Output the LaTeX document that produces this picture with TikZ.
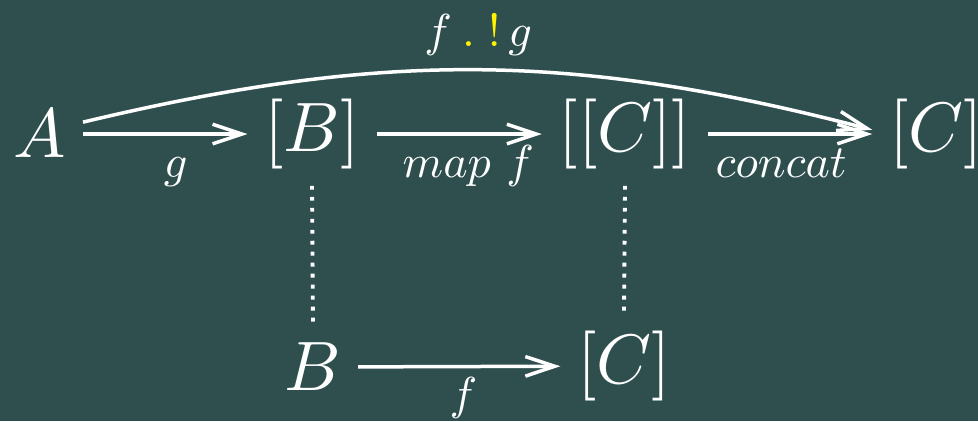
\documentclass[tikz,border=0pt]{standalone}
\usepackage{amsmath}
\usepackage{graphicx}
\usepackage{xcolor}
\usetikzlibrary{arrows.meta,positioning}
\definecolor{bgteal}{HTML}{2F4F4F}
\newcommand{\lbl}[1]{\scalebox{0.66}{$#1$}}

\begin{document}
\begin{tikzpicture}[x=0.1429pt,y=-0.1429pt,
  obj/.style={text=white,inner sep=2.2pt},
  mor/.style={-{Straight Barb[length=4.2pt,width=2.8pt]},white,line width=0.5pt},
  eq/.style={white,line width=0.55pt,dash pattern=on 0.55pt off 1.02pt},
  lab/.style={text=white,inner sep=0pt,anchor=base},
  lbelow/.style={lab,yshift=-6.2pt},
  labove/.style={lab,yshift=3.4pt}]
  \useasboundingbox (0,0) rectangle (978,421);
  \fill[bgteal] (0,0) rectangle (978,421);
  \node[obj] (A)   at (40,134)  {$A$};
  \node[obj] (LB)  at (312,134) {$[B]$};
  \node[obj] (LLC) at (625,134) {$[[C]]$};
  \node[obj] (LC)  at (936,134) {$[C]$};
  \node[obj] (B)   at (313,367) {$B$};
  \node[obj] (LC2) at (624,366) {$[C]$};
  \draw[mor] (A) -- node[lbelow,xshift=1.5pt]{\lbl{g}} (LB);
  \draw[mor] (LB) -- node[lbelow,xshift=1.3pt]{\lbl{map\ f}} (LLC);
  \draw[mor] (LLC) -- node[lbelow,xshift=-1.3pt]{\lbl{concat}} (LC);
  \draw[mor] (B) -- node[lbelow,xshift=0.6pt]{\lbl{f}} (LC2);
  \draw[mor] ([yshift=1.7pt]A.east) to[bend left=14]
    node[labove]{\lbl{f\:{\color{yellow}.\;!}\,g}} ([yshift=0.6pt]LC.west);
  \draw[eq] (LB.south) -- (B.north);
  \draw[eq] (LLC.south) -- (LC2.north);
\end{tikzpicture}
\end{document}
